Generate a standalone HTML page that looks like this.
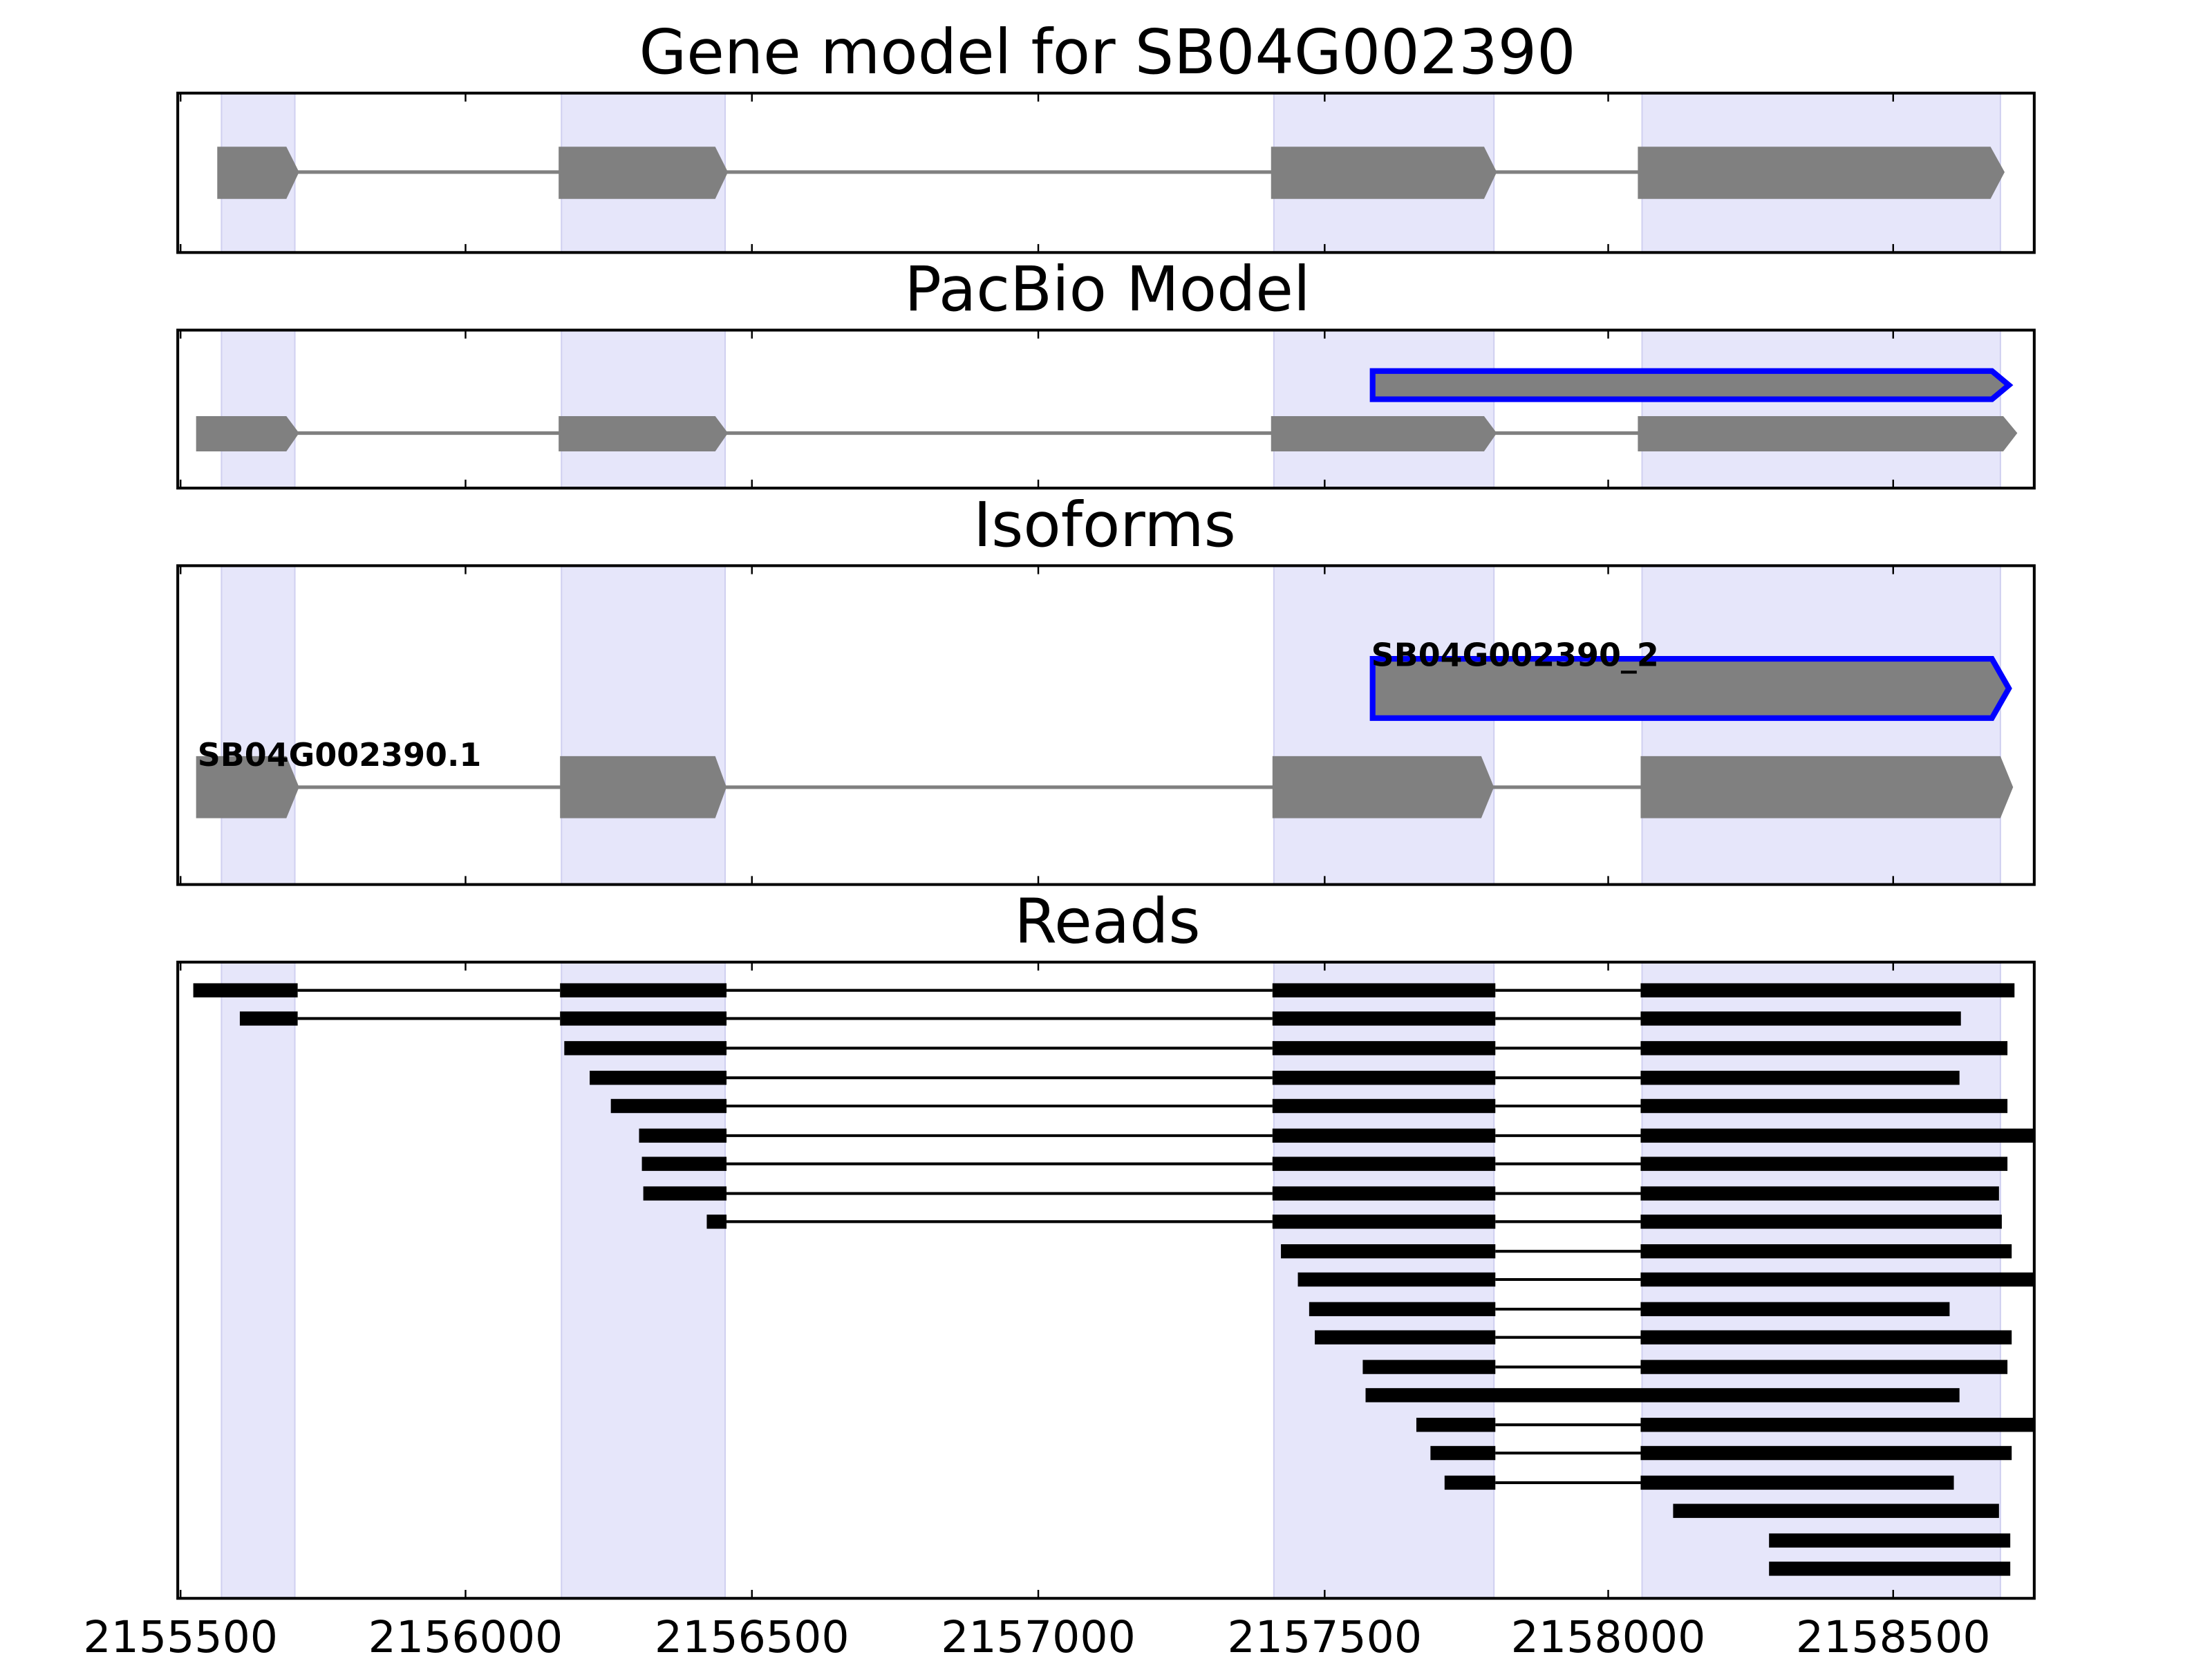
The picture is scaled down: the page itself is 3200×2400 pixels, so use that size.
<!DOCTYPE html>
<html><head><meta charset="utf-8"><style>html,body{margin:0;padding:0;background:#fff;width:3200px;height:2400px;overflow:hidden}svg{display:block}</style></head>
<body>
<svg width="3200" height="2400" viewBox="0 0 1568 1176" xmlns="http://www.w3.org/2000/svg" font-family="DejaVu Sans, Liberation Sans, sans-serif">
<defs>
<g id="shade">
<rect x="157" width="52" height="1000" fill="#e6e6fa" stroke="#d0d0f0" stroke-width="1"/>
<rect x="398" width="116" height="1000" fill="#e6e6fa" stroke="#d0d0f0" stroke-width="1"/>
<rect x="903" width="156" height="1000" fill="#e6e6fa" stroke="#d0d0f0" stroke-width="1"/>
<rect x="1164" width="254" height="1000" fill="#e6e6fa" stroke="#d0d0f0" stroke-width="1"/>
</g>
<clipPath id="c1"><rect x="126" y="66" width="1316" height="113"/></clipPath>
<clipPath id="c2"><rect x="126" y="234" width="1316" height="112"/></clipPath>
<clipPath id="c3"><rect x="126" y="401" width="1316" height="226"/></clipPath>
<clipPath id="c4"><rect x="126" y="682" width="1316" height="451"/></clipPath>
<g id="ticks" stroke="#000" stroke-width="1.2">
<line x1="128" x2="128" y1="0" y2="6"/><line x1="330" x2="330" y1="0" y2="6"/><line x1="533" x2="533" y1="0" y2="6"/><line x1="736" x2="736" y1="0" y2="6"/><line x1="939" x2="939" y1="0" y2="6"/><line x1="1140" x2="1140" y1="0" y2="6"/><line x1="1342" x2="1342" y1="0" y2="6"/>
</g>
</defs>
<g font-size="43.5" text-anchor="middle" fill="#000">
<text x="785" y="52">Gene model for SB04G002390</text>
<text x="785" y="220">PacBio Model</text>
<text x="783" y="387">Isoforms</text>
<text x="785" y="668">Reads</text>
</g>
<g clip-path="url(#c1)"><use href="#shade" y="66"/>
<line x1="205" x2="1165" y1="122" y2="122" stroke="#808080" stroke-width="2.5"/>
<g fill="#808080">
<polygon points="154,104 203,104 212,122 203,141 154,141"/>
<polygon points="396,104 507,104 516,122 507,141 396,141"/>
<polygon points="901,104 1052,104 1061,122 1052,141 901,141"/>
<polygon points="1161,104 1411,104 1421,122 1411,141 1161,141"/>
</g></g>
<g clip-path="url(#c2)"><use href="#shade" y="234"/>
<line x1="205" x2="1165" y1="307" y2="307" stroke="#808080" stroke-width="2.5"/>
<g fill="#808080">
<polygon points="139,295 203,295 212,307 203,320 139,320"/>
<polygon points="396,295 507,295 516,307 507,320 396,320"/>
<polygon points="901,295 1052,295 1061,307 1052,320 901,320"/>
<polygon points="1161,295 1420,295 1430,307 1420,320 1161,320"/>
<polygon points="973,263 1412,263 1424,273 1412,283 973,283" stroke="#0000ff" stroke-width="4"/>
</g></g>
<g clip-path="url(#c3)"><use href="#shade" y="401"/>
<line x1="205" x2="1165" y1="558" y2="558" stroke="#808080" stroke-width="2.5"/>
<g fill="#808080">
<polygon points="139,536 203,536 212,558 203,580 139,580"/>
<polygon points="397,536 507,536 515,558 507,580 397,580"/>
<polygon points="902,536 1050,536 1059,558 1050,580 902,580"/>
<polygon points="1163,536 1418,536 1427,558 1418,580 1163,580"/>
<polygon points="973,467 1412,467 1424,488 1412,509 973,509" stroke="#0000ff" stroke-width="4"/>
</g>
<g font-size="22.5" font-weight="bold" fill="#000">
<text x="972" y="472">SB04G002390_2</text>
<text x="140" y="543">SB04G002390.1</text>
</g></g>
<g clip-path="url(#c4)"><use href="#shade" y="682"/>
<g stroke="#000" stroke-width="2" fill="none">
<line x1="211" x2="397" y1="702" y2="702"/><line x1="211" x2="397" y1="722" y2="722"/>
<line x1="515" x2="902" y1="702" y2="702"/><line x1="515" x2="902" y1="722" y2="722"/><line x1="515" x2="902" y1="743" y2="743"/><line x1="515" x2="902" y1="764" y2="764"/><line x1="515" x2="902" y1="784" y2="784"/><line x1="515" x2="902" y1="805" y2="805"/><line x1="515" x2="902" y1="825" y2="825"/><line x1="515" x2="902" y1="846" y2="846"/><line x1="515" x2="902" y1="866" y2="866"/>
<line x1="1060" x2="1163" y1="702" y2="702"/><line x1="1060" x2="1163" y1="722" y2="722"/><line x1="1060" x2="1163" y1="743" y2="743"/><line x1="1060" x2="1163" y1="764" y2="764"/><line x1="1060" x2="1163" y1="784" y2="784"/><line x1="1060" x2="1163" y1="805" y2="805"/><line x1="1060" x2="1163" y1="825" y2="825"/><line x1="1060" x2="1163" y1="846" y2="846"/><line x1="1060" x2="1163" y1="866" y2="866"/><line x1="1060" x2="1163" y1="887" y2="887"/><line x1="1060" x2="1163" y1="907" y2="907"/><line x1="1060" x2="1163" y1="928" y2="928"/><line x1="1060" x2="1163" y1="948" y2="948"/><line x1="1060" x2="1163" y1="969" y2="969"/><line x1="1060" x2="1163" y1="1010" y2="1010"/><line x1="1060" x2="1163" y1="1030" y2="1030"/><line x1="1060" x2="1163" y1="1051" y2="1051"/>
</g>
<g fill="#000">
<rect x="137" y="697" width="74" height="10"/><rect x="170" y="717" width="41" height="10"/>
<rect x="397" y="697" width="118" height="10"/><rect x="397" y="717" width="118" height="10"/><rect x="400" y="738" width="115" height="10"/><rect x="418" y="759" width="97" height="10"/><rect x="433" y="779" width="82" height="10"/><rect x="453" y="800" width="62" height="10"/><rect x="455" y="820" width="60" height="10"/><rect x="456" y="841" width="59" height="10"/><rect x="501" y="861" width="14" height="10"/>
<rect x="902" y="697" width="158" height="10"/><rect x="902" y="717" width="158" height="10"/><rect x="902" y="738" width="158" height="10"/><rect x="902" y="759" width="158" height="10"/><rect x="902" y="779" width="158" height="10"/><rect x="902" y="800" width="158" height="10"/><rect x="902" y="820" width="158" height="10"/><rect x="902" y="841" width="158" height="10"/><rect x="902" y="861" width="158" height="10"/>
<rect x="908" y="882" width="152" height="10"/><rect x="920" y="902" width="140" height="10"/><rect x="928" y="923" width="132" height="10"/><rect x="932" y="943" width="128" height="10"/><rect x="966" y="964" width="94" height="10"/><rect x="968" y="984" width="421" height="10"/><rect x="1004" y="1005" width="56" height="10"/><rect x="1014" y="1025" width="46" height="10"/><rect x="1024" y="1046" width="36" height="10"/>
<rect x="1163" y="697" width="265" height="10"/><rect x="1163" y="717" width="227" height="10"/><rect x="1163" y="738" width="260" height="10"/><rect x="1163" y="759" width="226" height="10"/><rect x="1163" y="779" width="260" height="10"/><rect x="1163" y="800" width="285" height="10"/><rect x="1163" y="820" width="260" height="10"/><rect x="1163" y="841" width="254" height="10"/><rect x="1163" y="861" width="256" height="10"/><rect x="1163" y="882" width="263" height="10"/><rect x="1163" y="902" width="285" height="10"/><rect x="1163" y="923" width="219" height="10"/><rect x="1163" y="943" width="263" height="10"/><rect x="1163" y="964" width="260" height="10"/><rect x="1163" y="1005" width="285" height="10"/><rect x="1163" y="1025" width="263" height="10"/><rect x="1163" y="1046" width="222" height="10"/>
<rect x="1186" y="1066" width="231" height="10"/><rect x="1254" y="1087" width="171" height="10"/><rect x="1254" y="1107" width="171" height="10"/>
</g></g>
<g fill="none" stroke="#000" stroke-width="2">
<rect x="126" y="66" width="1316" height="113"/>
<rect x="126" y="234" width="1316" height="112"/>
<rect x="126" y="401" width="1316" height="226"/>
<rect x="126" y="682" width="1316" height="451"/>
</g>
<use href="#ticks" y="66"/><use href="#ticks" transform="translate(0,179) scale(1,-1)"/>
<use href="#ticks" y="234"/><use href="#ticks" transform="translate(0,346) scale(1,-1)"/>
<use href="#ticks" y="401"/><use href="#ticks" transform="translate(0,627) scale(1,-1)"/>
<use href="#ticks" y="682"/><use href="#ticks" transform="translate(0,1133) scale(1,-1)"/>
<g font-size="31" text-anchor="middle" fill="#000">
<text x="128" y="1171">2155500</text><text x="330" y="1171">2156000</text><text x="533" y="1171">2156500</text><text x="736" y="1171">2157000</text><text x="939" y="1171">2157500</text><text x="1140" y="1171">2158000</text><text x="1342" y="1171">2158500</text>
</g>
</svg>
</body></html>
